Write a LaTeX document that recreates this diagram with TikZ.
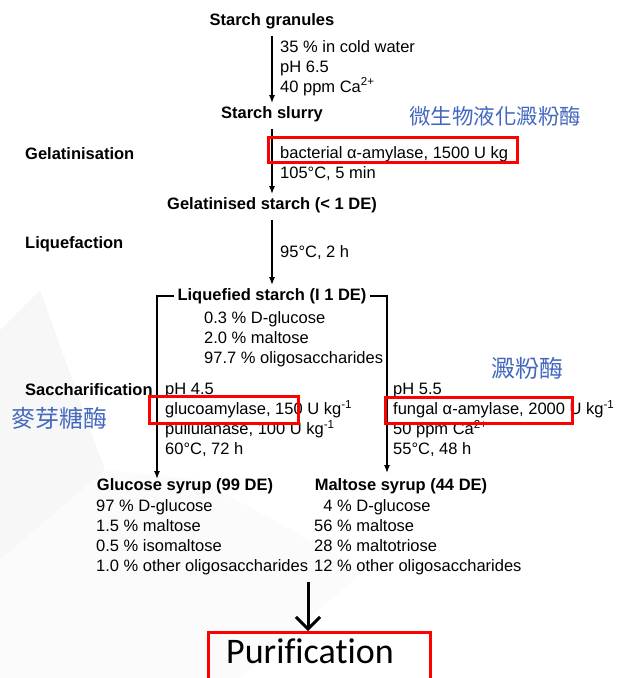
\documentclass[tikz,border=0pt]{standalone}
\usepackage{fontspec}
\setmainfont{Liberation Sans}
\newfontfamily\zhfont{Noto Sans CJK TC}
\newfontfamily\slidefont[Ligatures=NoCommon]{Carlito}
\usetikzlibrary{arrows.meta}
\definecolor{zhblue}{RGB}{68,104,190}
\newcommand{\txt}{\fontsize{16.5}{20}\selectfont}

\begin{document}
\begin{tikzpicture}[x=1pt,y=-1pt,
  product/.style={font=\txt\bfseries, inner sep=3pt},
  stage/.style={font=\txt\bfseries, inner sep=0pt, anchor=west},
  cond/.style={font=\txt, align=left, anchor=north west, inner sep=0pt},
  flow/.style={-{Latex[length=8pt,width=6pt]}, line width=1.3pt},
  bigflow/.style={-{Straight Barb[length=12pt,width=24pt]}, line width=3pt},
  markbox/.style={draw=red, line width=3pt},
  zhnote/.style={font=\zhfont, text=zhblue, inner sep=0pt}]

\useasboundingbox (0,0) rectangle (618,678);
\clip (0,0) rectangle (618,678);

% slide background
\fill[gray!6] (0,330) -- (40,290) -- (105,470) -- (0,560) -- cycle;
\fill[gray!3] (0,560) -- (105,470) -- (200,480) -- (365,570) -- (240,678) -- (0,678) -- cycle;

% products
\node[product] (granules) at (272,21) {Starch granules};
\node[product] (slurry) at (272,114) {Starch slurry};
\node[product] (gelst) at (272,205) {Gelatinised starch (< 1 DE)};
\node[product] (liqst) at (272,296) {Liquefied starch (I 1 DE)};
\node[product] (glusyr) at (185,486) {Glucose syrup (99 DE)};
\node[product] (malsyr) at (401,486) {Maltose syrup (44 DE)};

\foreach \n/\y/\t in {gelat/154/Gelatinisation, liquef/244/Liquefaction, sacch/390/Saccharification}
    \node[stage] (\n) at (25,\y) {\t};

% conditions
\node[cond] (cond1) at (280,40) {35 \% in cold water\\pH 6.5\\40 ppm Ca\textsuperscript{2+}};
\node[cond] (cond2) at (280,146) {bacterial α-amylase, 1500 U kg\\105°C, 5 min};
\node[cond] (cond3) at (280,245) {95°C, 2 h};
\node[cond] (liqlist) at (204,311) {0.3 \% D-glucose\\2.0 \% maltose\\97.7 \% oligosaccharides};
\node[cond] (glucond) at (165,383) {pH 4.5\\glucoamylase, 150 U kg\textsuperscript{-1}\\pullulanase, 100 U kg\textsuperscript{-1}\\60°C, 72 h};
\node[cond] (malcond) at (393,383) {pH 5.5\\fungal α-amylase, 2000 U kg\textsuperscript{-1}\\50 ppm Ca\textsuperscript{2+}\\55°C, 48 h};
\node[cond] (glulist) at (96,499) {97 \% D-glucose\\1.5 \% maltose\\0.5 \% isomaltose\\1.0 \% other oligosaccharides};
\node[cond] (mallist) at (314,499) {\phantom{1}4 \% D-glucose\\56 \% maltose\\28 \% maltotriose\\12 \% other oligosaccharides};

\coordinate (gtip) at (157,479);
\coordinate (mtip) at (387,473);
\coordinate (merge) at (308,582);

\draw[flow, shorten <=4pt] (granules) -- (slurry);
\draw[flow, shorten <=4pt] (slurry) -- (gelst);
\draw[flow, shorten <=4pt] (gelst) -- (liqst);
\draw[flow] (liqst.west) -| (gtip);
\draw[flow] (liqst.east) -| (mtip);

\node[draw=red, line width=3pt, anchor=north, minimum width=222pt, inner ysep=6pt,
      text depth=16pt, font=\slidefont\fontsize{36}{40}\selectfont] (purif) at (319,631) {Purification\hspace*{18pt}};
\draw[bigflow] (merge) -- (merge |- purif.north);

% highlighted enzymes
\draw[markbox] (268,137) rectangle (517,162);
\draw[markbox] (149,396) rectangle (298,423);
\draw[markbox] (385,397) rectangle (572,423);

\node[zhnote, font=\zhfont\fontsize{21.5}{24}\selectfont] (zhliq) at (495,116) {微生物液化澱粉酶};
\node[zhnote, font=\zhfont\fontsize{24}{26}\selectfont] (zhmalt) at (60,418) {麥芽糖酶};
\node[zhnote, font=\zhfont\fontsize{24}{26}\selectfont] (zhamy) at (527,368) {澱粉酶};

\end{tikzpicture}
\end{document}
